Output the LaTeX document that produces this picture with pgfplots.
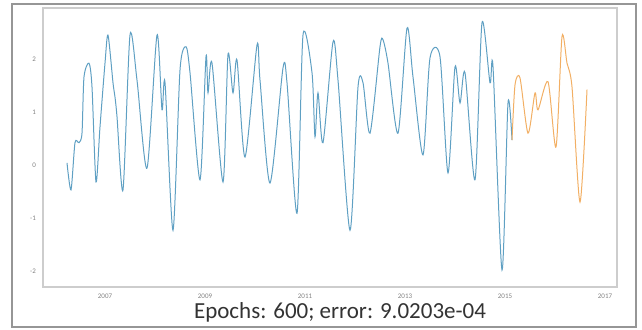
\documentclass[border=0pt]{standalone}
\usepackage{pgfplots}
\pgfplotsset{compat=1.18}
\usepackage{fontspec}
\setmainfont{Carlito}
\definecolor{histblue}{RGB}{95,160,195}
\definecolor{predorange}{RGB}{242,175,100}
\definecolor{framegray}{RGB}{150,150,150}
\definecolor{axisgray}{RGB}{205,205,205}
\definecolor{ticktext}{RGB}{130,130,130}
\begin{document}
\begin{tikzpicture}
\begin{axis}[
  scale only axis,
  width=287pt, height=139.5pt,
  xmin=2005.76, xmax=2017.24,
  ymin=-2.30, ymax=2.96,
  xtick={2007,2009,2011,2013,2015,2017},
  ytick={-2,-1,0,1,2},
  xticklabel style={/pgf/number format/1000 sep={}},
  tick label style={font=\fontsize{3.5}{4}\selectfont, text=ticktext},
  /pgf/number format/assume math mode=true,
  axis line style={axisgray, line width=0.6pt},
  major tick length=0pt,
  clip=true,
]
% observed series
\addplot[histblue, line width=0.5pt, smooth, tension=0.45] coordinates {
(2006.24,0.04) (2006.32,-0.47) (2006.40,0.42) (2006.48,0.42) (2006.54,0.60)
(2006.58,1.66) (2006.68,1.92) (2006.74,1.47) (2006.82,-0.32) (2006.90,0.72)
(2007.00,1.92) (2007.06,2.45) (2007.16,1.55) (2007.20,1.28) (2007.24,0.91)
(2007.36,-0.47) (2007.50,2.45) (2007.64,1.60) (2007.84,-0.06) (2008.04,2.45)
(2008.14,1.04) (2008.20,1.55) (2008.36,-1.23) (2008.50,1.79) (2008.62,2.23)
(2008.70,1.74) (2008.90,-0.28) (2009.02,2.04) (2009.06,1.36) (2009.14,1.92)
(2009.36,-0.32) (2009.46,2.08) (2009.56,1.36) (2009.64,1.98) (2009.80,0.15)
(2010.04,2.26) (2010.10,1.60) (2010.30,-0.34) (2010.56,1.83) (2010.64,1.55)
(2010.84,-0.91) (2010.96,2.45) (2011.14,1.74) (2011.20,0.53) (2011.26,1.36)
(2011.36,0.42) (2011.56,2.32) (2011.66,1.60) (2011.90,-1.23) (2012.06,1.47)
(2012.16,1.55) (2012.30,0.60) (2012.50,2.23) (2012.56,2.36) (2012.66,1.92)
(2012.86,0.60) (2013.04,2.58) (2013.16,1.66) (2013.36,0.19) (2013.50,2.02)
(2013.70,2.04) (2013.86,-0.15) (2014.00,1.85) (2014.10,1.17) (2014.20,1.74)
(2014.40,-0.28) (2014.54,2.68) (2014.70,1.55) (2014.76,1.85) (2014.94,-1.98)
(2015.06,1.17) (2015.14,0.47)
};
% forecast
\addplot[predorange, line width=0.5pt, smooth, tension=0.45] coordinates {
(2015.14,0.47) (2015.20,1.51) (2015.30,1.64) (2015.46,0.60) (2015.60,1.36)
(2015.66,1.04) (2015.86,1.57) (2016.02,0.34) (2016.14,2.42) (2016.24,1.92)
(2016.34,1.47) (2016.50,-0.70) (2016.64,1.42)
};
\end{axis}
\draw[framegray, line width=1pt] (-15.5pt,-20pt) rectangle (296.5pt,141.5pt);
\node[font=\fontsize{11.5}{13}\selectfont, text=black!80] at (148.5pt,-12.5pt) {Epochs: 600; error: 9.0203e-04};
\pgfresetboundingbox
\useasboundingbox (-21.5pt,-21.5pt) rectangle (299.5pt,143.5pt);
\end{tikzpicture}
\end{document}
